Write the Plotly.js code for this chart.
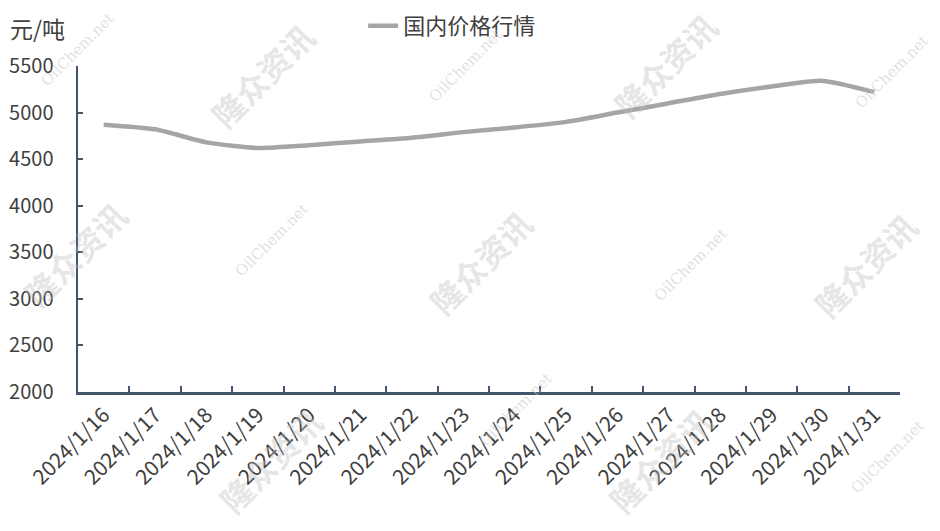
<!DOCTYPE html>
<html>
<head>
<meta charset="utf-8">
<script src="https://cdn.plot.ly/plotly-3.0.1.min.js"></script>
<style>html,body{margin:0;padding:0;background:#fff;}#chart{width:940px;height:531px;}</style>
</head>
<body>
<div id="chart"></div>
<script>
const categories = ["2024/1/16","2024/1/17","2024/1/18","2024/1/19","2024/1/20","2024/1/21","2024/1/22","2024/1/23","2024/1/24","2024/1/25","2024/1/26","2024/1/27","2024/1/28","2024/1/29","2024/1/30","2024/1/31"];
const domesticPrice = [4870, 4820, 4680, 4620, 4650, 4690, 4730, 4790, 4840, 4900, 5000, 5100, 5200, 5280, 5340, 5220];
const seriesName = "国内价格行情";
const yTicks = [2000, 2500, 3000, 3500, 4000, 4500, 5000, 5500];
const unitLabel = "元/吨";

const FONT = '"Noto Sans CJK SC", "Noto Sans", sans-serif';
const axisColor = '#44546A';

const wm = [];
const wmCN = [[0.224,0.972],[0.714,1.003],[0.489,0.399],[0.957,0.39],[-0.004,0.423],[0.234,-0.209],[0.708,-0.209]];
wmCN.forEach(p => wm.push({xref:'paper',yref:'paper',x:p[0],y:p[1],xanchor:'center',yanchor:'middle',text:'隆众资讯',showarrow:false,textangle:-45,font:{family:FONT,size:32,color:'rgba(190,190,190,0.4)',weight:'bold'}}));
const wmEN = [[-0.001,1.049],[0.471,1.0],[0.99,0.982],[0.236,0.466],[0.745,0.39],[0.532,-0.055],[0.985,-0.2]];
wmEN.forEach(p => wm.push({xref:'paper',yref:'paper',x:p[0],y:p[1],xanchor:'center',yanchor:'middle',text:'OilChem.net',showarrow:false,textangle:-45,font:{family:'DejaVu Serif, serif',size:15,color:'rgba(200,200,200,0.55)'}}));

const data = [{
  type: 'scatter',
  mode: 'lines',
  x: categories,
  y: domesticPrice,
  name: seriesName,
  line: {color: '#A5A5A5', width: 4.5, shape: 'spline', smoothing: 0.6}
}];

const layout = {
  width: 940, height: 531,
  margin: {l: 78, r: 40, t: 66, b: 139},
  paper_bgcolor: '#fff', plot_bgcolor: '#fff',
  font: {family: FONT, size: 20, color: '#404040'},
  showlegend: true,
  legend: {orientation: 'h', x: 0.481, xanchor: 'center', y: 0.951, yanchor: 'middle', xref:'container', yref:'container', font: {size: 22, color: '#404040'}},
  xaxis: {
    type: 'category',
    range: [-0.5, categories.length - 0.5],
    tickson: 'boundaries',
    ticks: 'inside', ticklen: 6, tickwidth: 2, tickcolor: axisColor,
    showline: true, linecolor: axisColor, linewidth: 2.5,
    showgrid: false, zeroline: false,
    tickangle: -45,
    tickfont: {size: 21, color: '#404040'}
  },
  yaxis: {
    range: [2000, 5500],
    tickvals: yTicks,
    ticks: 'inside', ticklen: 5, tickwidth: 2, tickcolor: axisColor,
    showline: true, linecolor: axisColor, linewidth: 2.5,
    showgrid: false, zeroline: false,
    ticklabelstandoff: 18,
    tickfont: {size: 20, color: '#404040'}
  },
  annotations: wm.concat([{
    xref: 'paper', yref: 'paper', x: -0.085, y: 1.117, xanchor: 'left', yanchor: 'middle',
    text: unitLabel, showarrow: false, font: {size: 23, color: '#404040'}
  }])
};

Plotly.newPlot('chart', data, layout, {displayModeBar: false, staticPlot: true});
</script>
</body>
</html>
